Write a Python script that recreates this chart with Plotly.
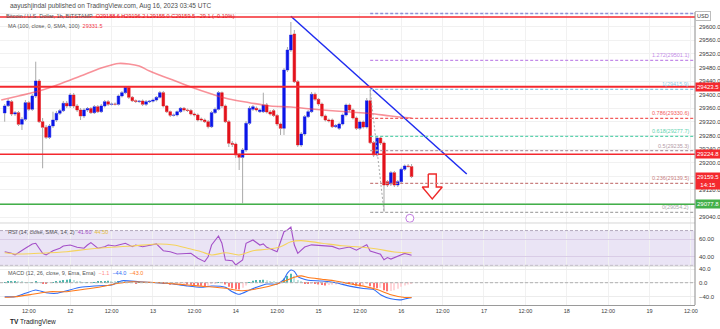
import pandas as pd
import plotly.graph_objects as go
from plotly.subplots import make_subplots

FONT = "Liberation Sans"
start = pd.Timestamp("2023-08-11 05:00")

opens = [29346.2, 29367.6, 29379.4, 29343.2, 29347.1, 29313.0, 29327.7, 29376.5, 29357.1, 29396.2,
         29440.3, 29320.6, 29304.1, 29274.7, 29308.0, 29325.6, 29345.3, 29353.0, 29374.7, 29366.8,
         29399.1, 29366.8, 29355.0, 29337.4, 29355.0, 29359.4, 29347.1, 29364.7, 29350.0, 29366.8,
         29379.4, 29371.8, 29372.6, 29371.8, 29396.2, 29405.9, 29421.7, 29392.3, 29382.3, 29380.0,
         29381.5, 29371.8, 29379.4, 29380.9, 29384.4, 29392.3, 29405.9, 29366.8, 29350.0, 29339.4,
         29340.3, 29350.0, 29360.0, 29355.0, 29353.5, 29343.2, 29340.3, 29328.5, 29325.6, 29320.6,
         29305.9, 29347.1, 29357.1, 29405.9, 29366.8, 29320.6, 29257.1, 29255.0, 29222.7, 29215.9,
         29237.4, 29315.9, 29357.1, 29360.0, 29350.0, 29350.0, 29369.7, 29349.1, 29353.0, 29338.8,
         29313.8, 29301.2, 29472.6, 29531.4, 29578.4, 29438.2, 29252.1, 29284.4, 29335.3, 29350.0,
         29401.2, 29386.5, 29372.6, 29337.4, 29325.6, 29325.6, 29305.9, 29301.2, 29313.8, 29340.3,
         29369.7, 29355.0, 29331.5, 29301.2, 29319.7, 29305.0, 29382.3, 29258.9, 29222.7, 29272.7,
         29258.0, 29144.2, 29137.4, 29170.7, 29134.5, 29144.2, 29180.7, 29190.4, 29188.6]
highs = [29372.6, 29387.3, 29384.4, 29352.1, 29352.1, 29334.4, 29384.4, 29381.5, 29402.0, 29497.0,
         29446.1, 29331.5, 29310.9, 29313.8, 29350.0, 29352.1, 29357.9, 29381.5, 29381.5, 29405.0,
         29405.0, 29372.6, 29360.9, 29360.9, 29363.8, 29363.8, 29369.7, 29369.7, 29372.6, 29384.4,
         29384.4, 29377.0, 29377.0, 29400.6, 29410.9, 29425.6, 29425.6, 29396.2, 29385.9, 29384.4,
         29385.9, 29384.4, 29384.4, 29388.8, 29396.2, 29410.9, 29410.9, 29369.7, 29353.5, 29344.7,
         29353.5, 29363.8, 29363.8, 29359.4, 29357.9, 29347.7, 29344.7, 29332.9, 29330.0, 29325.6,
         29352.1, 29362.4, 29410.9, 29409.4, 29371.2, 29325.6, 29263.9, 29259.5, 29228.6, 29243.3,
         29322.7, 29366.8, 29369.7, 29365.3, 29359.4, 29405.9, 29375.6, 29355.0, 29357.9, 29343.2,
         29318.3, 29478.5, 29540.2, 29613.7, 29590.2, 29443.2, 29290.3, 29340.3, 29355.0, 29407.9,
         29406.5, 29390.3, 29377.0, 29341.8, 29330.0, 29330.0, 29313.8, 29318.3, 29344.7, 29374.1,
         29374.1, 29359.4, 29335.9, 29324.1, 29324.1, 29390.3, 29415.3, 29263.9, 29277.1, 29277.1,
         29262.4, 29149.2, 29175.7, 29175.7, 29149.2, 29186.0, 29194.8, 29196.2, 29196.2]
lows = [29320.6, 29363.8, 29337.4, 29337.4, 29308.0, 29296.2, 29322.7, 29352.1, 29352.1, 29390.3,
        29316.8, 29183.6, 29269.7, 29269.7, 29302.1, 29319.7, 29340.3, 29349.1, 29360.9, 29360.9,
        29360.9, 29349.1, 29325.6, 29331.5, 29349.1, 29343.2, 29343.2, 29346.2, 29346.2, 29362.4,
        29366.8, 29368.2, 29368.2, 29368.2, 29391.8, 29402.0, 29387.3, 29378.5, 29375.6, 29375.6,
        29366.8, 29366.8, 29375.6, 29377.0, 29380.0, 29388.8, 29362.4, 29346.2, 29334.4, 29335.9,
        29335.9, 29346.2, 29350.6, 29349.1, 29338.8, 29335.9, 29321.2, 29321.2, 29316.8, 29300.6,
        29302.1, 29343.2, 29353.5, 29360.9, 29316.8, 29246.2, 29246.2, 29213.9, 29178.6, 29080.7,
        29231.5, 29310.9, 29352.1, 29350.6, 29346.2, 29346.2, 29344.7, 29338.8, 29334.4, 29308.0,
        29281.5, 29281.5, 29466.7, 29525.5, 29434.4, 29246.2, 29246.2, 29278.6, 29331.5, 29346.2,
        29381.5, 29366.8, 29332.9, 29321.2, 29318.3, 29302.1, 29302.1, 29296.2, 29309.4, 29335.9,
        29350.6, 29327.1, 29296.2, 29296.2, 29300.6, 29300.6, 29255.0, 29216.8, 29218.3, 29252.1,
        29056.0, 29128.6, 29131.6, 29128.6, 29128.6, 29140.4, 29175.7, 29186.0, 29155.0]
closes = [29366.8, 29381.5, 29343.2, 29347.1, 29313.0, 29327.7, 29376.5, 29357.1, 29396.2, 29440.3,
          29320.6, 29304.1, 29274.7, 29308.0, 29325.6, 29345.3, 29353.0, 29374.7, 29366.8, 29399.1,
          29366.8, 29355.0, 29337.4, 29355.0, 29359.4, 29347.1, 29364.7, 29350.0, 29366.8, 29379.4,
          29371.8, 29372.6, 29371.8, 29396.2, 29405.9, 29421.7, 29392.3, 29382.3, 29380.0, 29381.5,
          29371.8, 29379.4, 29381.5, 29384.4, 29392.3, 29405.9, 29366.8, 29350.0, 29339.4, 29340.3,
          29350.0, 29360.0, 29355.0, 29353.5, 29343.2, 29340.3, 29325.6, 29325.6, 29320.6, 29305.9,
          29347.1, 29357.1, 29405.9, 29366.8, 29320.6, 29257.1, 29253.6, 29222.7, 29215.9, 29237.4,
          29315.9, 29360.0, 29364.7, 29355.0, 29355.0, 29369.7, 29349.1, 29343.2, 29338.8, 29313.8,
          29301.2, 29472.6, 29531.4, 29575.5, 29438.2, 29252.1, 29284.4, 29335.3, 29350.0, 29401.2,
          29386.5, 29372.6, 29337.4, 29325.6, 29322.7, 29305.9, 29309.4, 29313.8, 29340.3, 29369.7,
          29355.0, 29331.5, 29301.2, 29319.7, 29305.0, 29382.3, 29258.9, 29222.7, 29272.7, 29258.0,
          29134.5, 29134.5, 29170.7, 29134.5, 29144.2, 29180.7, 29190.4, 29188.6, 29159.5]

# moving average (100 SMA) read at bar offsets (hours after first bar)
ma_hours = [-1, 4, 10, 16, 22, 28, 31, 33, 36, 39, 42, 48, 54, 60, 65, 71, 77, 83, 89, 94, 100, 106, 112, 118]
ma_values = [29384.4, 29396.2, 29410.9, 29431.4, 29455.0, 29478.5, 29487.3, 29491.7, 29490.2, 29484.4,
             29469.7, 29446.1, 29422.6, 29402.0, 29387.3, 29376.5, 29366.8, 29363.8, 29357.9, 29353.5,
             29349.1, 29344.7, 29337.4, 29331.5]

rsi_hours = [0, 2, 3, 5, 6, 8, 9, 11, 12, 14, 16, 17, 19, 21, 23, 24, 25, 27, 29, 30, 32, 33, 35, 37, 38,
             40, 42, 44, 46, 48, 50, 52, 54, 56, 58, 59, 60, 62, 63, 64, 66, 67, 69, 70, 72, 74, 75, 76,
             78, 79, 81, 82, 83, 84, 85, 87, 89, 92, 95, 97, 100, 102, 104, 105, 106, 107, 109, 110, 111,
             112, 113, 115, 116, 118]
rsi_values = [45.7, 43.9, 42.0, 47.7, 49.7, 54.6, 55.4, 43.9, 42.0, 46.9, 49.7, 52.3, 53.4, 50.8, 49.7,
              53.4, 56.1, 49.7, 51.5, 53.4, 52.3, 53.4, 55.4, 51.5, 53.4, 51.5, 53.4, 54.6, 46.9, 45.7,
              43.1, 43.9, 43.9, 38.2, 34.3, 40.0, 53.4, 63.8, 55.4, 36.2, 35.4, 30.5, 36.2, 55.4, 59.2,
              53.4, 54.6, 50.8, 47.7, 45.7, 68.7, 70.7, 74.0, 53.4, 43.9, 51.1, 53.6, 52.5, 51.8, 48.9,
              51.1, 47.5, 51.8, 53.6, 46.4, 45.3, 42.7, 36.5, 39.0, 37.3, 39.0, 42.7, 43.8, 41.6]
rsi_ma_hours = [0, 4, 10, 18, 24, 31, 37, 45, 49, 53, 57, 60, 64, 68, 72, 76, 80, 83, 86, 92, 98, 103, 108, 113, 118]
rsi_ma_values = [44.6, 43.1, 43.9, 45.7, 48.5, 50.8, 52.3, 54.6, 53.4, 49.7, 45.7, 42.0, 44.6, 42.0, 46.9,
                 48.5, 51.5, 57.2, 58.5, 55.5, 52.5, 51.1, 48.9, 45.3, 44.5]

macd_hours = [0, 3, 6, 9, 12, 15, 18, 22, 26, 31, 34, 39, 44, 49, 53, 57, 60, 64, 66, 68, 71, 73, 76, 79,
              81, 82, 83, 84, 85, 86, 88, 92, 96, 100, 104, 107, 109, 112, 115, 117, 118]
macd_values = [-40.9, -40.9, -31.0, -21.3, -29.2, -31.0, -23.4, -13.4, -9.6, -6.7, 5.8, 2.9, 0.0, -3.8,
               -9.6, -13.4, -9.6, -13.4, -26.3, -33.9, -21.3, -13.4, -3.8, -3.8, 10.0, 28.0, 37.0, 33.0,
               18.0, 13.0, 7.0, 5.0, 0.0, -10.0, -17.0, -20.0, -35.0, -47.0, -50.0, -45.0, -44.0]
signal_hours = [0, 3, 8, 13, 18, 23, 28, 33, 37, 42, 47, 53, 59, 64, 69, 74, 79, 84, 86, 88, 92, 96, 100,
                104, 108, 112, 116, 118]
signal_values = [-42.6, -40.9, -33.9, -26.3, -26.3, -19.3, -11.7, -1.8, 2.9, 1.2, -1.8, -6.7, -11.7,
                 -16.4, -23.4, -16.4, -3.8, 15.8, 20.0, 15.0, 10.0, 5.0, -3.0, -10.0, -20.0, -35.0,
                 -43.0, -43.0]
hist_values = [2, 3, 4, 5, 4, 3, 2, 1, 2, 3, 1, -1, -2, 0, 2, 4, 6, 8, 9, 10, 8,
               5, 3, 2, 2, 1, 2, 3, 4, 5, 6, 5, 4, 5, 4,
               3, 1, 0, -1, 1, 2, 1, 0, 1, 2, 2, -2,
               -4, -6, -6, -5, -4, -4, -5, -6, -7, -8,
               -9, -10, -8, -4, -2, 2, 0, -5, -12, -16, -19, -20,
               -15, -8, 2, 6, 8, 8, 9, 7, 5, 3, 1, 0,
               12, 20, 26, 20, 8, 3, -1, -3, -2, -4,
               -5, -7, -8, -7, -6, -5, -4, -3, -2, -3,
               -6, -9, -10, -8, -3, -10, -15, -16, -15, -22,
               -25, -24, -22, -18, -12, -8, -5, -2]

hline_prices = [29628.4, 29423.5, 29224.8]
support_price = 29077.8
fib_levels = ["1.618", "1.272", "1", "0.786", "0.618", "0.5", "0.236", "0"]
fib_prices = [29638.7, 29501.1, 29415.9, 29330.6, 29277.7, 29235.3, 29139.5, 29054.2]
fib_colors = ["#8f8fd8", "#c38be8", "#8ccbe6", "#f25c5c", "#5fd3b0", "#b39aa6", "#c98080", "#a9a9a9"]
fib_start_hour = 106
trend_hours = [83, 134]
trend_prices = [29630.5, 29166.8]
arrow_center_hour = 124
arrow_dx = [-1.16, 1.16, 1.16, 2.9, 0.0, -2.9, -1.16, -1.16]
arrow_prices = [29166.8, 29166.8, 29128.6, 29128.6, 29093.4, 29128.6, 29128.6, 29166.8]
event_hour = 117.5
event_price = 29036.6

tick_times = ["2023-08-11 12:00", "2023-08-12 00:00", "2023-08-12 12:00", "2023-08-13 00:00",
              "2023-08-13 12:00", "2023-08-14 00:00", "2023-08-14 12:00", "2023-08-15 00:00",
              "2023-08-15 12:00", "2023-08-16 00:00", "2023-08-16 12:00", "2023-08-17 00:00",
              "2023-08-17 12:00", "2023-08-18 00:00", "2023-08-18 12:00", "2023-08-19 00:00",
              "2023-08-19 12:00"]
tick_text = ["12:00", "12", "12:00", "13", "12:00", "14", "12:00", "15", "12:00", "16", "12:00",
             "17", "12:00", "18", "12:00", "19", "12:00"]
price_ticks = [29040, 29080, 29120, 29160, 29200, 29240, 29280, 29320, 29360, 29400, 29440,
               29480, 29520, 29560, 29600, 29640]
# labels hidden by the coloured price boxes on the scale
price_ticks_hidden = [29080, 29160, 29640]


def at(h):
    return start + pd.Timedelta(hours=h)


n = len(opens)
times = [at(k) for k in range(n)]
x_range = [at(-1.363), at(200.2)]

UP = "#0b16e8"
DN = "#e3121b"

fig = make_subplots(rows=3, cols=1, shared_xaxes=True, vertical_spacing=0)

# wicks (outside the bodies)
wx, wy = [], []
for t, o, h, l, c in zip(times, opens, highs, lows, closes):
    top, bot = max(o, c), min(o, c)
    wx += [t, t, None, t, t, None]
    wy += [h, top, None, bot, l, None]
fig.add_trace(go.Scatter(x=wx, y=wy, mode="lines", line=dict(color="#a9a9a9", width=1),
                         hoverinfo="skip"), row=1, col=1)
body_colors = [UP if c >= o else DN for o, c in zip(opens, closes)]
fig.add_trace(go.Bar(x=times, y=[c - o for o, c in zip(opens, closes)], base=opens,
                     width=0.74 * 3600000, marker=dict(color=body_colors,
                     line=dict(color=body_colors, width=0.6)), hoverinfo="skip"), row=1, col=1)

fig.add_trace(go.Scatter(x=[at(h) for h in ma_hours], y=ma_values, mode="lines",
                         line=dict(color="rgba(242,54,69,0.55)", width=1.6, shape="spline"),
                         hoverinfo="skip"), row=1, col=1)
fig.add_trace(go.Scatter(x=[at(h) for h in trend_hours], y=trend_prices, mode="lines",
                         line=dict(color="#1f2cf0", width=1.5), hoverinfo="skip"), row=1, col=1)
fig.add_trace(go.Scatter(x=[at(arrow_center_hour + d) for d in arrow_dx], y=arrow_prices,
                         mode="lines", fill="toself", fillcolor="white",
                         line=dict(color="#ee2a2a", width=1.4), hoverinfo="skip"), row=1, col=1)
fig.add_trace(go.Scatter(x=[at(event_hour)], y=[event_price], mode="markers",
                         marker=dict(symbol="circle", size=8, color="white",
                                     line=dict(color="#c27be0", width=1)),
                         hoverinfo="skip"), row=1, col=1)

# RSI
fig.add_trace(go.Scatter(x=[at(h) for h in rsi_hours], y=rsi_values, mode="lines",
                         line=dict(color="#a450c8", width=1.1), hoverinfo="skip"), row=2, col=1)
fig.add_trace(go.Scatter(x=[at(h) for h in rsi_ma_hours], y=rsi_ma_values, mode="lines",
                         line=dict(color="#f5d35c", width=1.1, shape="spline"),
                         hoverinfo="skip"), row=2, col=1)

# MACD
hist_colors = []
for k, v in enumerate(hist_values):
    prev = hist_values[k - 1] if k > 0 else v
    if v >= 0:
        hist_colors.append("#26a69a" if v >= prev else "#b2dfdb")
    else:
        hist_colors.append("#ffcdd2" if v >= prev else "#ff5252")
fig.add_trace(go.Bar(x=times, y=hist_values, width=0.35 * 3600000,
                     marker=dict(color=hist_colors, line=dict(width=0)), opacity=0.8,
                     hoverinfo="skip"), row=3, col=1)
fig.add_trace(go.Scatter(x=[at(h) for h in macd_hours], y=macd_values, mode="lines",
                         line=dict(color="#2f6cf5", width=1.1, shape="spline", smoothing=0.6),
                         hoverinfo="skip"), row=3, col=1)
fig.add_trace(go.Scatter(x=[at(h) for h in signal_hours], y=signal_values, mode="lines",
                         line=dict(color="#ff7a1a", width=1.1, shape="spline", smoothing=0.6),
                         hoverinfo="skip"), row=3, col=1)

MAIN_DOM = [0.2799, 1.0]
RSI_DOM = [0.1331, 0.2799]
MACD_DOM = [0.0, 0.1331]

grid = "#f1f1f1"
axis_font = dict(family=FONT, size=6, color="#3a3a3a")
for ax in ["xaxis", "xaxis2", "xaxis3"]:
    fig.layout[ax].update(range=x_range, showgrid=True, gridcolor=grid, gridwidth=1,
                          tickvals=tick_times, ticktext=tick_text, zeroline=False,
                          showticklabels=False, ticks="")
fig.layout.xaxis3.update(showticklabels=True, tickfont=dict(family=FONT, size=5.5, color="#3a3a3a"),
                         showline=True, linecolor="#9a9a9a", linewidth=1)

price_tick_text = ["" if v in price_ticks_hidden else f"{v:.1f}" for v in price_ticks]

fig.update_layout(
    yaxis=dict(domain=MAIN_DOM, range=[29022.8, 29643.1], side="right", tickvals=price_ticks,
               ticktext=price_tick_text, showgrid=True, gridcolor=grid, zeroline=False,
               tickfont=axis_font, ticks="", ticklabelstandoff=3),
    yaxis2=dict(domain=RSI_DOM, range=[29.3, 78.7], side="right", tickvals=[40, 60],
                ticktext=["40.00", "60.00"], showgrid=True, gridcolor="#d9cce6", zeroline=False,
                tickfont=axis_font, ticks="", ticklabelstandoff=3),
    yaxis3=dict(domain=MACD_DOM, range=[-65.1, 48.8], side="right", tickvals=[-40, 0, 40],
                ticktext=["\u221240.0", "0.0", "40.0"], showgrid=True, gridcolor="#ececec",
                zeroline=False, tickfont=axis_font, ticks="", ticklabelstandoff=3),
    width=720, height=329, margin=dict(l=0, r=25, t=12, b=24),
    plot_bgcolor="white", paper_bgcolor="white", showlegend=False, barmode="overlay",
    font=dict(family=FONT, size=6, color="#4a4a4a"),
)

shapes = []
# RSI band
shapes.append(dict(type="rect", xref="x2 domain", yref="y2", x0=0, x1=1, y0=30, y1=70,
                   fillcolor="rgba(126,87,194,0.16)", line=dict(width=0), layer="below"))
for lvl in [70, 30]:
    shapes.append(dict(type="line", xref="x2 domain", yref="y2", x0=0, x1=1, y0=lvl, y1=lvl,
                       line=dict(color="#b3a8bd", width=1, dash="3px,2px")))
shapes.append(dict(type="line", xref="x3 domain", yref="y3", x0=0, x1=1, y0=0, y1=0,
                   line=dict(color="#b0b0b0", width=1, dash="3px,2px")))
# horizontal resistance / support lines
for p, w in zip(hline_prices, [1.5, 2.0, 1.5]):
    shapes.append(dict(type="line", xref="x domain", yref="y", x0=0, x1=1, y0=p, y1=p,
                       line=dict(color="#f4282e", width=w)))
shapes.append(dict(type="line", xref="x domain", yref="y", x0=0, x1=1, y0=support_price,
                   y1=support_price, line=dict(color="#43b049", width=1.5)))
# fibonacci
for p, col in zip(fib_prices, fib_colors):
    shapes.append(dict(type="line", xref="x", yref="y", x0=at(fib_start_hour), x1=x_range[1],
                       y0=p, y1=p, line=dict(color=col, width=1.3, dash="3px,2px")))
shapes.append(dict(type="line", xref="x", yref="y", x0=at(106), x1=at(110), y0=highs[106],
                   y1=lows[110], line=dict(color="#a9a9a9", width=1, dash="2px,2px")))
# pane separators & price-scale border
for yp in [MAIN_DOM[0], RSI_DOM[0]]:
    shapes.append(dict(type="line", xref="paper", yref="paper", x0=0, x1=1, y0=yp, y1=yp,
                       line=dict(color="#d6d6d6", width=1)))
shapes.append(dict(type="line", xref="paper", yref="paper", x0=1, x1=1, y0=0, y1=1.0,
                   line=dict(color="#8c8c8c", width=1)))
fig.update_layout(shapes=shapes)

ann = []
ann.append(dict(xref="paper", yref="paper", x=0.0115, y=1.0205, xanchor="left", yanchor="middle",
                showarrow=False, text="aayushjindal published on TradingView.com, Aug 16, 2023 03:45 UTC",
                font=dict(family=FONT, size=6.5, color="#4d4d4d")))
ann.append(dict(xref="paper", yref="paper", x=0.006, y=0.9863, xanchor="left", yanchor="middle",
                showarrow=False,
                text="Bitcoin / U.S. Dollar, 1h, BITSTAMP  <span style='color:#e3121b'>O29188.6 H29196.2 "
                     "L29155.0 C29159.5 \u221229.1 (\u22120.10%)</span>",
                font=dict(family=FONT, size=5.5, color="#555555")))
ann.append(dict(xref="paper", yref="paper", x=0.009, y=0.952, xanchor="left", yanchor="middle",
                showarrow=False,
                text="MA (100, close, 0, SMA, 100)  <span style='color:#f23645'>29331.5</span>",
                font=dict(family=FONT, size=5.5, color="#555555")))
ann.append(dict(xref="paper", yref="paper", x=0.009, y=0.249, xanchor="left", yanchor="middle",
                showarrow=False,
                text="RSI (14, close, SMA, 14, 2)  <span style='color:#a450c8'>41.60</span>  "
                     "<span style='color:#e8c040'>44.50</span>",
                font=dict(family=FONT, size=5.5, color="#555555")))
ann.append(dict(xref="paper", yref="paper", x=0.009, y=0.109, xanchor="left", yanchor="middle",
                showarrow=False,
                text="MACD (12, 26, close, 9, Ema, Ema)  <span style='color:#ff8a8a'>\u22121.1</span>  "
                     "<span style='color:#2f6cf5'>\u221244.0</span>  <span style='color:#ff7a1a'>\u221243.0</span>",
                font=dict(family=FONT, size=5.5, color="#555555")))
ann.append(dict(xref="paper", yref="paper", x=0.0115, y=-0.058, xanchor="left", yanchor="middle",
                showarrow=False, text="<b>TV</b> TradingView",
                font=dict(family=FONT, size=6.5, color="#222222")))
# fib labels
for lvl, p, col in zip(fib_levels[1:], fib_prices[1:], fib_colors[1:]):
    ann.append(dict(xref="x", yref="y", x=x_range[1], y=p, xanchor="right", yanchor="bottom",
                    xshift=-4, yshift=0, showarrow=False, text=f"{lvl}({p:.1f})",
                    font=dict(family=FONT, size=5.5, color=col)))
# price scale labels
box = dict(xref="paper", yref="y", x=1, xanchor="left", showarrow=False, borderpad=1,
           font=dict(family=FONT, size=6, color="white"))
for p in hline_prices[1:]:
    ann.append(dict(box, y=p, text=f"{p:.1f}", bgcolor="#f4282e"))
ann.append(dict(box, y=support_price, text=f"{support_price:.1f}", bgcolor="#43b049"))
ann.append(dict(box, y=closes[-1], yanchor="top", yshift=4, text=f"{closes[-1]:.1f}<br>14:15",
                bgcolor="#f4282e"))
ann.append(dict(box, y=29631.4, text="USD", bgcolor="white", bordercolor="#bdbdbd", borderwidth=1,
                font=dict(family=FONT, size=5.5, color="#333333")))
fig.update_layout(annotations=ann)

fig.write_html("out.html", config={"displayModeBar": False})
